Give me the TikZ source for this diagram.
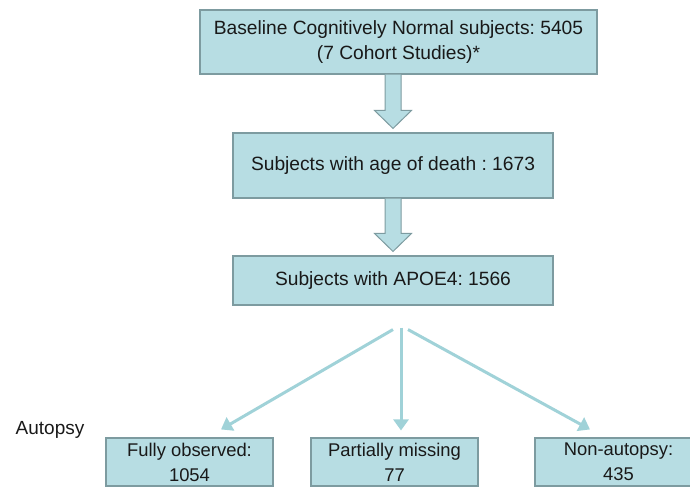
\documentclass[tikz,border=0pt]{standalone}
\usepackage{fontspec}
\setmainfont{Liberation Sans}
\frenchspacing
\usetikzlibrary{arrows.meta,positioning,calc}
\definecolor{boxaqua}{RGB}{183,221,227}
\definecolor{boxedge}{RGB}{125,155,160}
\definecolor{arrowaqua}{RGB}{160,210,216}
\definecolor{textgray}{RGB}{25,25,25}

\tikzset{
  stagebox/.style={draw=boxedge, line width=1.1pt, fill=boxaqua, text=textgray, align=center, inner sep=0pt, font=\fontsize{19.2}{25}\selectfont},
  leafbox/.style={stagebox, minimum width=167pt, minimum height=48pt, font=\fontsize{18.4}{25}\selectfont},
  fatline/.style={draw=boxedge, line width=1pt, fill=boxaqua, line join=miter},
  splitline/.style={draw=arrowaqua, line width=3pt, -{Triangle[length=11pt,width=15pt]}}
}

% block arrow from the bottom of #1 to the top of #2
\newcommand{\fatarrow}[2]{%
  \path[fatline] ($(#1.south -| #2.north)+(-8,0)$) -- ($(#2.north)+(-8,22)$)
    -- ($(#2.north)+(-18.5,22)$) -- ($(#2.north)+(0,4)$) -- ($(#2.north)+(18.5,22)$)
    -- ($(#2.north)+(8,22)$) -- ($(#1.south -| #2.north)+(8,0)$);}

\begin{document}
\begin{tikzpicture}[x=1pt,y=1pt]
  \useasboundingbox (0,0) rectangle (690,487);

  % main stages
  \node[stagebox, minimum width=397pt, minimum height=64pt] (base) at (398.5,445) {Baseline Cognitively Normal subjects: 5405\\(7 Cohort Studies)*};
  \node[stagebox, minimum width=320pt, minimum height=65pt] (death) at (393,321.5) {Subjects with age of death : 1673};
  \node[stagebox, minimum width=320pt, minimum height=49pt] (apoe) at (393,206.5) {Subjects with APOE4: 1566};

  \fatarrow{base}{death}
  \fatarrow{death}{apoe}

  % autopsy split
  \node[leafbox] (fully) at (189.5,25) {Fully observed:\\1054};
  \node[leafbox] (partial) at (394.5,25) {Partially missing\\77};
  \node[leafbox] (nonaut) at (618.5,25) {Non-autopsy:\\435};
  \node[text=textgray, font=\fontsize{19}{25}\selectfont] (autopsy) at (50,57) {Autopsy};

  \coordinate (fork) at ($(apoe.south)+(8,-22)$);
  \draw[splitline] ($(fork)+(-8,-2)$) -- ($(fully.north)+(31.5,8)$);
  \draw[splitline] (fork) -- ($(partial.north)+(6.5,7)$);
  \draw[splitline] ($(fork)+(7,-2)$) -- ($(nonaut.north)+(-28.5,8)$);
\end{tikzpicture}
\end{document}
